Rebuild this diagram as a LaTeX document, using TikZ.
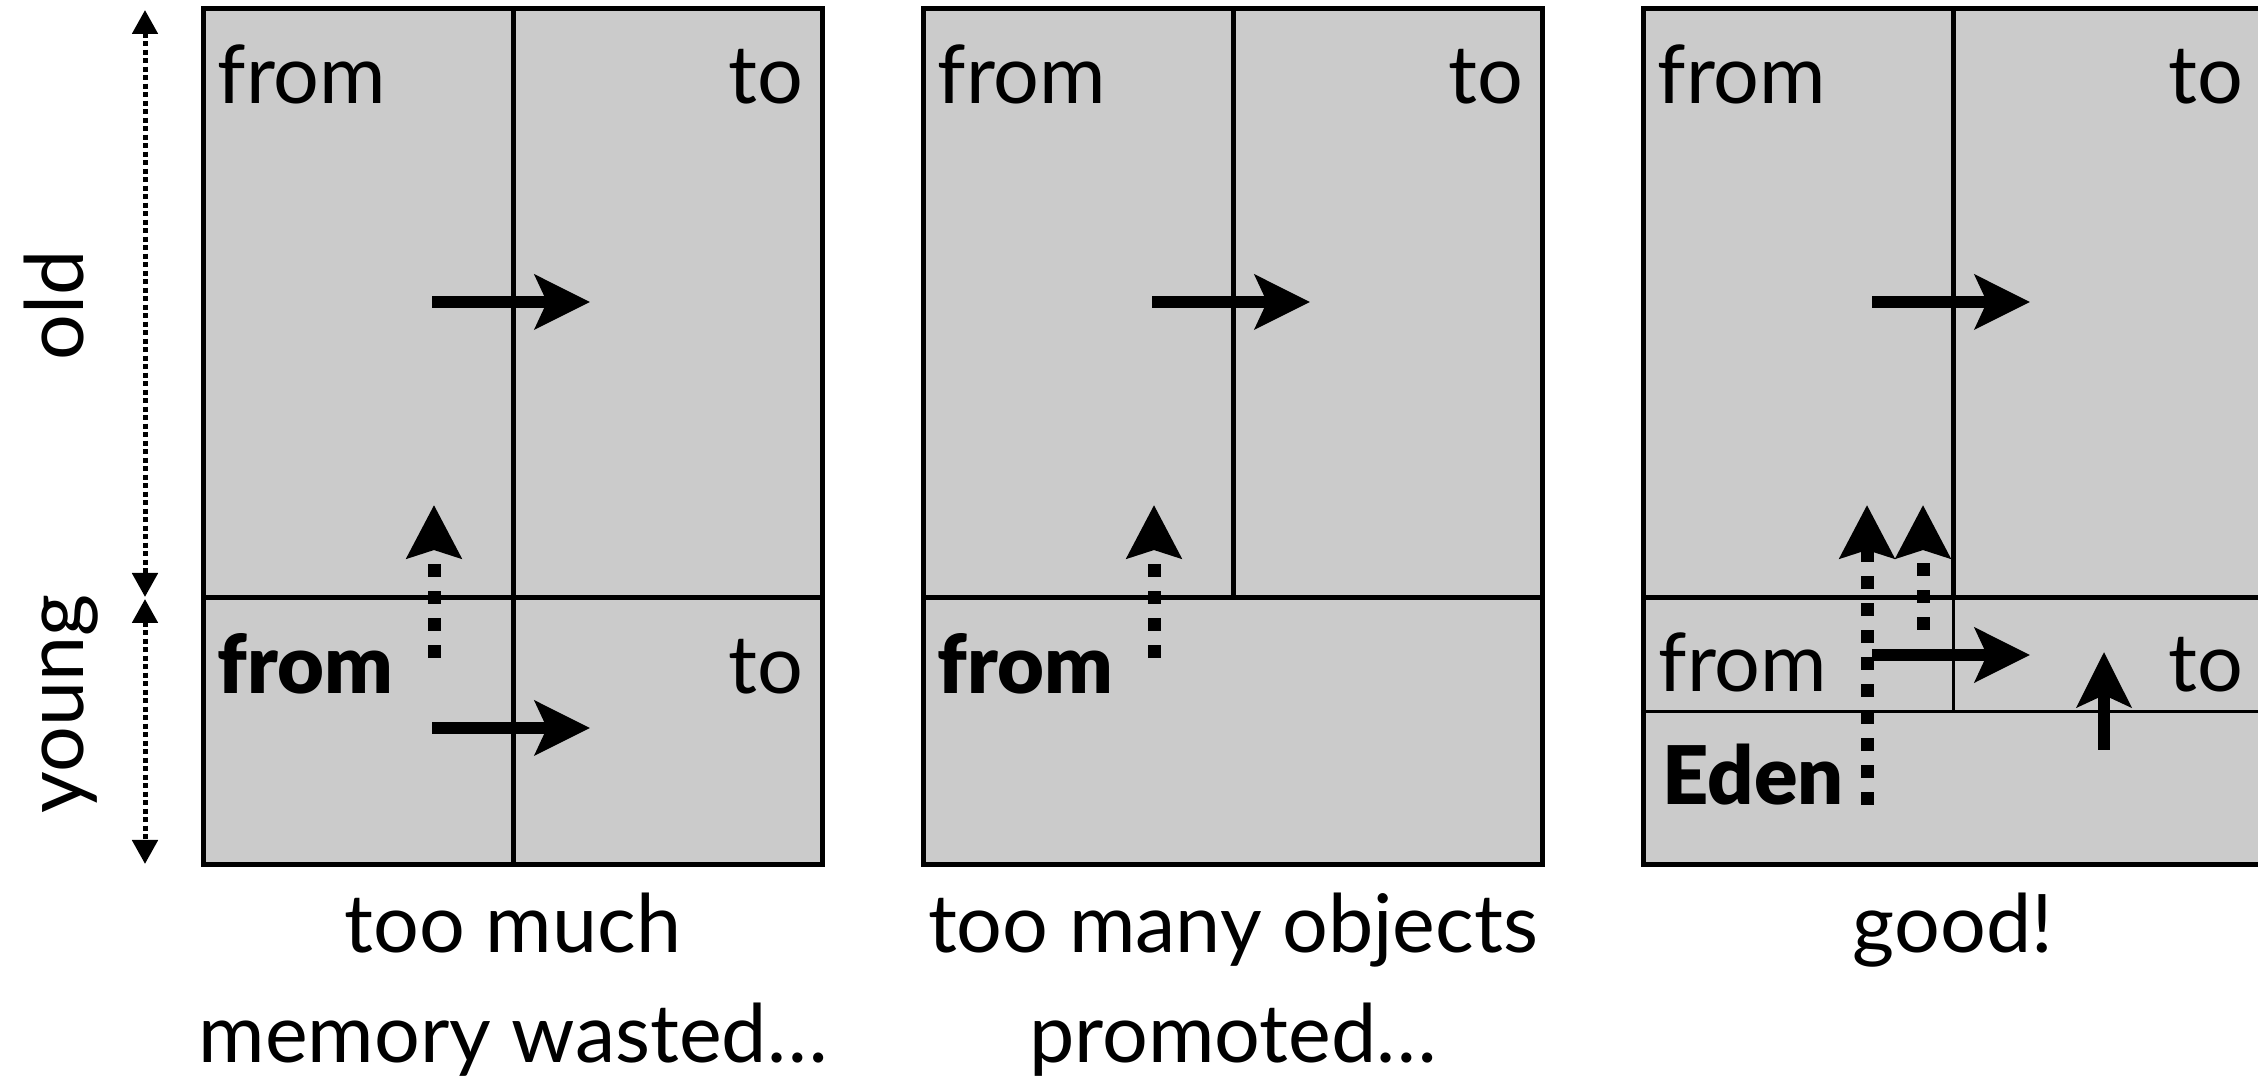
\documentclass[tikz,border=0pt]{standalone}
\usepackage{fontspec}
\setmainfont{Lato}
\newfontfamily\heavyfont{Lato Black}
\usetikzlibrary{arrows.meta}
\definecolor{gcpanel}{HTML}{CBCBCB}
\definecolor{gcink}{HTML}{000000}
\tikzset{
  heapbox/.style={draw=gcink, fill=gcpanel, line width=0.5mm},
  divline/.style={draw=gcink, line width=0.5mm},
  thindiv/.style={draw=gcink, line width=0.3mm},
  lbl/.style={inner sep=0pt, font=\fontsize{23}{28}\selectfont},
  blbl/.style={inner sep=0pt, font=\fontsize{23}{28}\selectfont\heavyfont},
  copyarr/.style={-{Stealth[length=5.5mm, width=5.4mm, inset=1.2mm]}, line width=1.2mm, draw=gcink},
  promarr/.style={-{Stealth[length=5.3mm, width=5.4mm, inset=0.8mm]}, line width=1.3mm, dash pattern=on 1.3mm off 1.4mm, draw=gcink},
  spanarr/.style={{Triangle[length=2.4mm, width=2.5mm]}-{Triangle[length=2.4mm, width=2.5mm]}, line width=0.5mm, dash pattern=on 0.5mm off 0.35mm, draw=gcink},
}

\begin{document}
\begin{tikzpicture}[x=0.1mm,y=-0.1mm]
  \useasboundingbox (0,0) rectangle (2258,1077);
  \clip (0,0) rectangle (2258,1077);
  % three heaps side by side, 720 apart
  \foreach \p/\dx in {1/0,2/720,3/1440} {
    \draw[heapbox] (203+\dx,9) rectangle (822+\dx,865);
    \draw[divline] (203+\dx,598) -- (822+\dx,598);
    \draw[divline] (513+\dx,9) -- (513+\dx,598);
    \node[lbl, anchor=base west] (oldfrom\p) at (217+\dx,104) {from};
    \node[lbl, anchor=base east] (oldto\p) at (804+\dx,104) {to};
    \draw[copyarr] (432+\dx,302) -- (590+\dx,302);
  }
  % heap 1: young split in two
  \draw[divline] (513,598) -- (513,865);
  \node[blbl, anchor=base west] (youngfrom1) at (217,694) {from};
  \node[lbl, anchor=base east] (youngto1) at (804,694) {to};
  \draw[copyarr] (432,728) -- (590,728);
  \draw[promarr] (434,658) -- (434,505);
  % heap 2: young in one piece
  \node[blbl, anchor=base west] (youngfrom2) at (937,694) {from};
  \draw[promarr] (1154,658) -- (1154,505);
  % heap 3: survivors + Eden
  \draw[thindiv] (1643,712) -- (2262,712);
  \draw[thindiv] (1953,598) -- (1953,712);
  \node[lbl, anchor=base west] (survfrom) at (1658,692) {from};
  \node[lbl, anchor=base east] (survto) at (2244,692) {to};
  \node[blbl, anchor=base west] (eden) at (1662,805) {Eden};
  \draw[promarr] (1867,805) -- (1867,505);
  \draw[promarr] (1923,630) -- (1923,505);
  \draw[copyarr] (1872,655) -- (2030,655);
  \draw[copyarr] (2104,750) -- (2104,652);
  % generations on the left
  \draw[spanarr] (145,10) -- (145,597);
  \draw[spanarr] (145,599) -- (145,864);
  \node[lbl, rotate=90, anchor=base] (oldlbl) at (83,305) {old};
  \node[lbl, rotate=90, anchor=base] (younglbl) at (83,704) {young};
  % captions
  \node[lbl, anchor=base] (cap1a) at (513,953) {too much};
  \node[lbl, anchor=base] (cap1b) at (513,1063) {memory wasted…};
  \node[lbl, anchor=base] (cap2a) at (1233,953) {too many objects};
  \node[lbl, anchor=base] (cap2b) at (1233,1063) {promoted…};
  \node[lbl, anchor=base] (cap3a) at (1953,953) {good!};
\end{tikzpicture}
\end{document}
